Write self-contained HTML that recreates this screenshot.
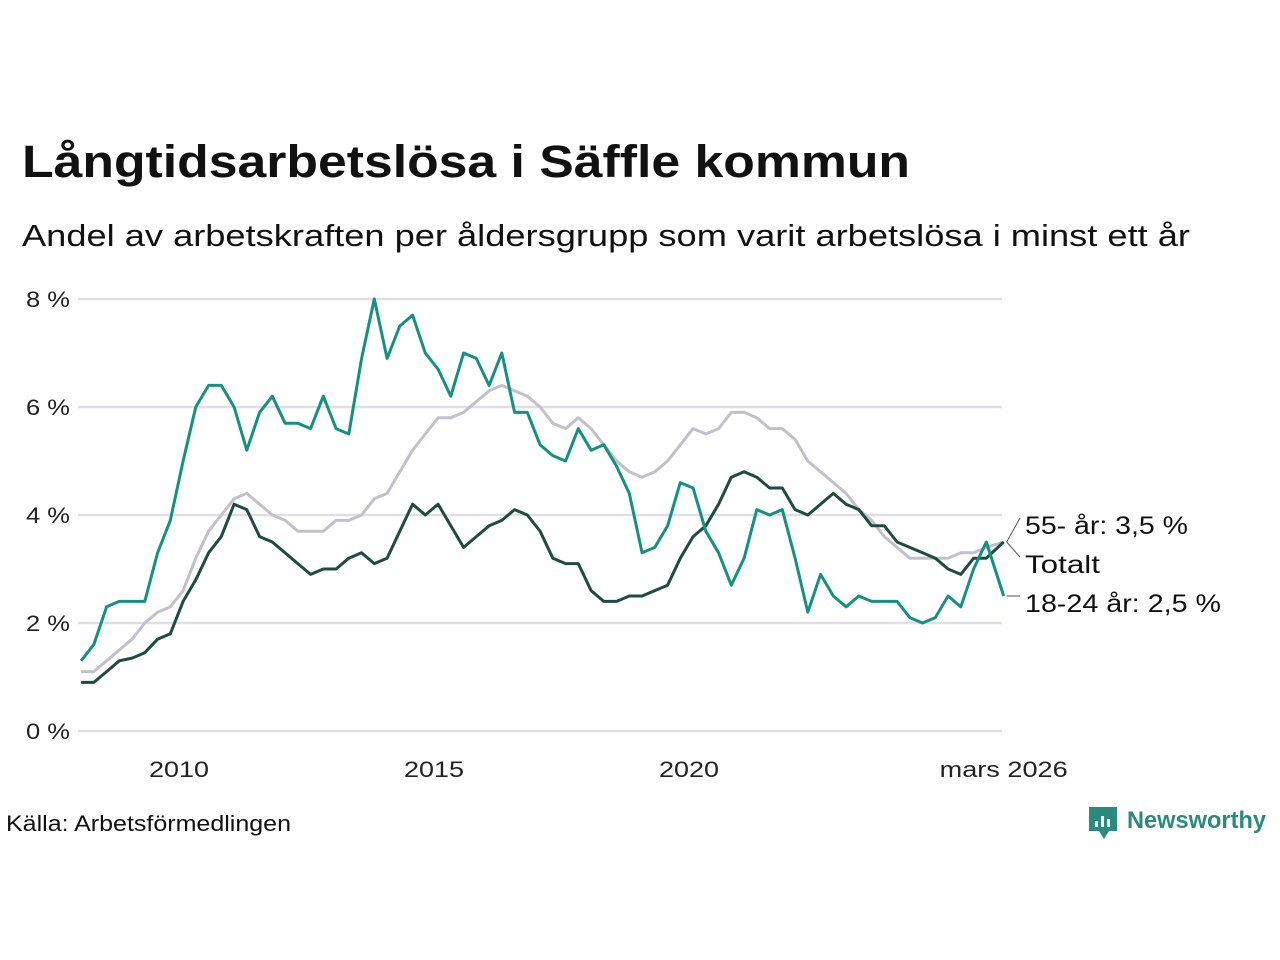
<!DOCTYPE html>
<html><head><meta charset="utf-8"><style>
body{margin:0;background:#fff;width:1280px;height:960px;overflow:hidden;font-family:"Liberation Sans","DejaVu Sans",sans-serif;}
</style></head><body>
<svg width="1280" height="960" style="position:absolute;left:0;top:0">
<text x="22" y="177" font-size="45" font-weight="bold" fill="#111" textLength="888" lengthAdjust="spacingAndGlyphs">Långtidsarbetslösa i Säffle kommun</text>
<text x="22" y="246" font-size="31" fill="#111" textLength="1168" lengthAdjust="spacingAndGlyphs">Andel av arbetskraften per åldersgrupp som varit arbetslösa i minst ett år</text>
<g id="grid"></g><g id="lines"></g><g id="labels"></g>
<text x="6" y="831" font-size="22" fill="#111" textLength="285" lengthAdjust="spacingAndGlyphs">Källa: Arbetsförmedlingen</text>
<g>
<path d="M1089 807h28v24h-8l-5 8-5-8h-10z" fill="#2a8a7b"/>
<rect x="1095" y="821" width="3" height="6" fill="#fff"/><rect x="1101" y="816" width="3" height="11" fill="#fff"/><rect x="1107" y="819" width="3" height="8" fill="#fff"/>
<text x="1127" y="828" font-size="24" font-weight="bold" fill="#2a8a7b" textLength="139" lengthAdjust="spacingAndGlyphs">Newsworthy</text>
</g>
</svg>
<script>
const dates=[];for(let i=0;i<72;i++)dates.push(2008.08+i*0.25);dates.push(2026.17);
const totalt=[0.9,0.9,1.1,1.3,1.35,1.45,1.7,1.8,2.4,2.8,3.3,3.6,4.2,4.1,3.6,3.5,3.3,3.1,2.9,3.0,3.0,3.2,3.3,3.1,3.2,3.7,4.2,4.0,4.2,3.8,3.4,3.6,3.8,3.9,4.1,4.0,3.7,3.2,3.1,3.1,2.6,2.4,2.4,2.5,2.5,2.6,2.7,3.2,3.6,3.8,4.2,4.7,4.8,4.7,4.5,4.5,4.1,4.0,4.2,4.4,4.2,4.1,3.8,3.8,3.5,3.4,3.3,3.2,3.0,2.9,3.2,3.2,3.5];
const older=[1.1,1.1,1.3,1.5,1.7,2.0,2.2,2.3,2.6,3.2,3.7,4.0,4.3,4.4,4.2,4.0,3.9,3.7,3.7,3.7,3.9,3.9,4.0,4.3,4.4,4.8,5.2,5.5,5.8,5.8,5.9,6.1,6.3,6.4,6.3,6.2,6.0,5.7,5.6,5.8,5.6,5.3,5.0,4.8,4.7,4.8,5.0,5.3,5.6,5.5,5.6,5.9,5.9,5.8,5.6,5.6,5.4,5.0,4.8,4.6,4.4,4.1,3.9,3.6,3.4,3.2,3.2,3.2,3.2,3.3,3.3,3.4,3.5];
const youth=[1.3,1.6,2.3,2.4,2.4,2.4,3.3,3.9,5.0,6.0,6.4,6.4,6.0,5.2,5.9,6.2,5.7,5.7,5.6,6.2,5.6,5.5,6.9,8.0,6.9,7.5,7.7,7.0,6.7,6.2,7.0,6.9,6.4,7.0,5.9,5.9,5.3,5.1,5.0,5.6,5.2,5.3,4.9,4.4,3.3,3.4,3.8,4.6,4.5,3.7,3.3,2.7,3.2,4.1,4.0,4.1,3.2,2.2,2.9,2.5,2.3,2.5,2.4,2.4,2.4,2.1,2.0,2.1,2.5,2.3,3.0,3.5,2.5];
const yTicks=[0,2,4,6,8];
const xTicks=[2010,2015,2020];
const X=t=>179+(t-2010)*51, Y=v=>731-54*v;
const NS="http://www.w3.org/2000/svg";
function mk(tag,attrs,parent){const e=document.createElementNS(NS,tag);for(const k in attrs)e.setAttribute(k,attrs[k]);document.getElementById(parent).appendChild(e);return e;}
yTicks.forEach(v=>{
 const l=mk('line',{x1:78,x2:1002,y1:Y(v),y2:Y(v),stroke:'#e0dfe5','stroke-width':2.5},'grid');
 
 
 const t=mk('text',{x:70,y:Y(v)+8,'font-size':22,fill:'#222','text-anchor':'end',textLength:44,lengthAdjust:'spacingAndGlyphs'},'grid');t.textContent=v+' %';
 
 
});
xTicks.forEach(v=>{const t=mk('text',{x:X(v),y:777,'font-size':22,fill:'#222','text-anchor':'middle',textLength:60,lengthAdjust:'spacingAndGlyphs'},'grid');t.textContent=v;
 
 });
{const t=mk('text',{x:X(dates[dates.length-1]),y:777,'font-size':22,fill:'#222','text-anchor':'middle',textLength:128,lengthAdjust:'spacingAndGlyphs'},'grid');t.textContent='mars 2026';
 
 }
function line(vals,color,name){const d=vals.map((v,i)=>(i?'L':'M')+X(dates[i]).toFixed(1)+' '+Y(v).toFixed(1)).join('');
 const p=mk('path',{d:d,fill:'none',stroke:color,'stroke-width':3,'stroke-linejoin':'round'},'lines');
 
 }
line(older,'#c3c0cb','line-55-ar');
line(totalt,'#1f4b41','line-totalt');
line(youth,'#14927f','line-18-24-ar');
const last=dates.length-1, ex=X(dates[last]);
const labs=[[older[last],526,'55- år: 3,5 %',163],[totalt[last],565,'Totalt',75],[youth[last],604,'18-24 år: 2,5 %',196]];
labs.forEach(([v,ly,txt,w])=>{
 const l=mk('path',{d:`M${ex+3} ${Y(v)} L1020 ${ly-8}`,stroke:'#555','stroke-width':1,fill:'none'},'labels');
 
 
 const t=mk('text',{x:1025,y:ly+8,'font-size':25,fill:'#111',textLength:w,lengthAdjust:'spacingAndGlyphs'},'labels');t.textContent=txt;
 
 
});
</script>
</body></html>
